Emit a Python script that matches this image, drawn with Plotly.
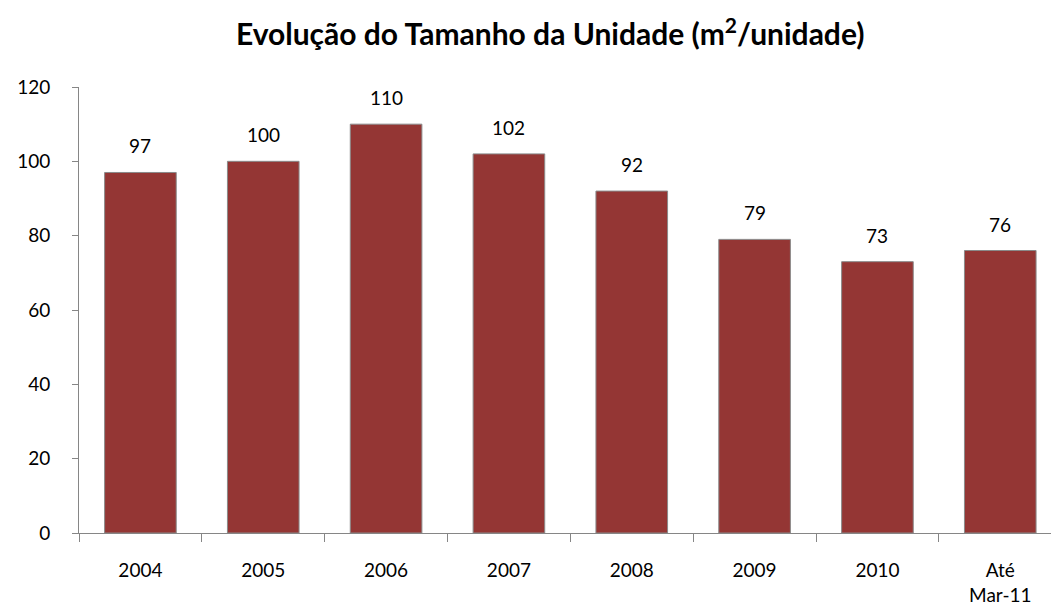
import plotly.graph_objects as go

categories = ["2004", "2005", "2006", "2007", "2008", "2009", "2010", "Até<br>Mar-11"]
values = [97, 100, 110, 102, 92, 79, 73, 76]
value_labels = ["97", "100", "110", "102", "92", "79", "73", "76"]
y_ticks = [0, 20, 40, 60, 80, 100, 120]

FONT = "Lato, 'Open Sans', sans-serif"

fig = go.Figure(go.Bar(
    x=list(range(len(categories))), y=values,
    marker=dict(color="#943634", line=dict(color="#8a8a8a", width=1)),
    hoverinfo="skip",
))

for i, (v, t) in enumerate(zip(values, value_labels)):
    fig.add_annotation(x=i, y=v, text=t, showarrow=False, yanchor="bottom",
                       yshift=13, font=dict(family=FONT, size=19, color="#000"))

fig.update_layout(
    width=1059, height=611,
    margin=dict(l=65, r=9, t=79, b=86),
    paper_bgcolor="white", plot_bgcolor="white",
    bargap=0.417,
    showlegend=False,
    title=dict(text="<b>Evolução do Tamanho da Unidade (m<sup>2</sup>/unidade)</b>",
               x=0.512, xanchor="center", y=0.956, yanchor="middle",
               font=dict(family=FONT, size=30, color="#000")),
    xaxis=dict(range=[-0.5, 7.47], tickvals=list(range(len(categories))),
               ticktext=categories, showticklabels=True,
               ticks="", showline=True, linecolor="#868686", linewidth=1,
               showgrid=False, zeroline=False, ticklabelstandoff=20,
               minor=dict(tickvals=[i + 0.5 for i in range(-1, len(categories))],
                          ticks="outside", ticklen=8, tickcolor="#868686"),
               tickfont=dict(family=FONT, size=19, color="#000")),
    yaxis=dict(range=[0, 120], tickvals=y_ticks, ticks="outside", ticklen=6,
               tickcolor="#868686", showline=True, linecolor="#868686",
               linewidth=1, showgrid=False, zeroline=False,
               ticklabelstandoff=18,
               tickfont=dict(family=FONT, size=19, color="#000")),
)

fig.write_html("out.html")
